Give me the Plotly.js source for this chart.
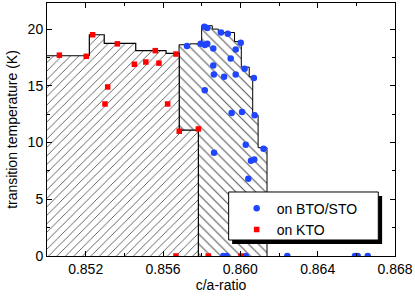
<!DOCTYPE html>
<html>
<head>
<meta charset="utf-8">
<script src="https://cdn.plot.ly/plotly-3.0.1.min.js"></script>
<style>html,body{margin:0;padding:0;background:#fff;}#chart{width:415px;height:298px;}</style>
</head>
<body>
<div id="chart"></div>
<script>
// Boundary (step outline) of the KTO region
const ktoEdgeX = [0.8500, 0.85219, 0.85296, 0.85459, 0.85616, 0.85684, 0.85783];
const ktoEdgeT = [17.65, 19.5, 18.74, 18.1, 17.86, 11.1, 0];
// Boundary (step outline) of the BTO/STO region
const btoEdgeX = [0.85683, 0.85683, 0.85740, 0.85800, 0.85855, 0.85886, 0.85970, 0.86005, 0.86046, 0.86064, 0.86092, 0.86138];
const btoEdgeT = [0, 18.62, 18.7, 20.3, 20.0, 19.7, 18.9, 16.65, 15.8, 12.4, 9.55, 0];

// Measured points: on BTO/STO
const btoX = [0.85814, 0.85829, 0.85900, 0.85935, 0.86002, 0.85724, 0.85795, 0.85817, 0.85829, 0.85860,
              0.85976, 0.85950, 0.85860, 0.85863, 0.85916, 0.85976, 0.86022, 0.86070, 0.85816, 0.85955,
              0.86009, 0.86074, 0.86028, 0.86120, 0.86055, 0.86072, 0.85864, 0.86041,
              0.85912, 0.85929, 0.86028, 0.86243, 0.86593, 0.86607, 0.86659];
const btoT = [20.2, 20.1, 19.7, 19.6, 18.8, 18.5, 18.7, 18.6, 18.7, 18.3,
              18.2, 17.4, 16.8, 16.0, 15.8, 16.0, 16.5, 15.7, 14.6, 12.6,
              12.7, 12.4, 9.8, 9.45, 8.4, 8.5, 9.1, 6.8,
              0, 0, 0, 0, 0, 0, 0];
// Measured points: on KTO
const ktoX = [0.85064, 0.85203, 0.85236, 0.85364, 0.85452, 0.85511, 0.85560, 0.85579, 0.85667,
              0.85314, 0.85300, 0.85624, 0.85684, 0.85783, 0.85667, 0.85834, 0.86003];
const ktoT = [17.7, 17.6, 19.5, 18.7, 16.9, 17.1, 18.1, 17.0, 17.8,
              14.9, 13.4, 13.4, 11.0, 11.2, 0, 0, 0];

const xTicks = [0.852, 0.856, 0.860, 0.864, 0.868];
const xTickText = ['0.852', '0.856', '0.860', '0.864', '0.868'];
const yTicks = [0, 5, 10, 15, 20];

const font = {family: 'Liberation Sans, Arial, sans-serif', size: 14, color: '#000'};

const traces = [
  {x: btoEdgeX, y: btoEdgeT, type: 'scatter', mode: 'lines', line: {shape: 'hv', color: '#000', width: 1},
   fill: 'tozeroy', fillcolor: 'rgba(255,255,255,0)',
   fillpattern: {shape: '\\', size: 7, solidity: 0.15, fgcolor: '#555', bgcolor: '#fff'},
   showlegend: false, hoverinfo: 'skip'},
  {x: ktoEdgeX, y: ktoEdgeT, type: 'scatter', mode: 'lines', line: {shape: 'hv', color: '#000', width: 1.2},
   fill: 'tozeroy', fillcolor: 'rgba(255,255,255,0)',
   fillpattern: {shape: '/', size: 6, solidity: 0.15, fgcolor: '#555', bgcolor: '#fff'},
   showlegend: false, hoverinfo: 'skip'},
  {x: btoX, y: btoT, type: 'scatter', mode: 'markers', name: 'on BTO/STO',
   marker: {symbol: 'circle', size: 6.5, color: '#1f45ff'}},
  {x: ktoX, y: ktoT, type: 'scatter', mode: 'markers', name: 'on KTO',
   marker: {symbol: 'square', size: 5.5, color: '#ff0000'}}
];

const layout = {
  width: 415, height: 298,
  margin: {l: 47, r: 20, t: 3, b: 42},
  paper_bgcolor: '#fff', plot_bgcolor: '#fff',
  font: font,
  showlegend: true,
  legend: {x: 0.545, y: 0.25, xanchor: 'left', yanchor: 'top', bgcolor: 'rgba(0,0,0,0)',
           borderwidth: 0, font: font, tracegroupgap: 0},
  xaxis: {
    range: [0.850, 0.868], showgrid: false, zeroline: false,
    showline: true, linecolor: '#000', linewidth: 1, mirror: 'allticks',
    ticks: 'inside', ticklen: 5, tickcolor: '#000',
    tickvals: xTicks, ticktext: xTickText,
    minor: {tickvals: [0.850, 0.854, 0.858, 0.862, 0.866], ticks: 'inside', ticklen: 3, tickcolor: '#000'},
    title: {text: 'c/a-ratio', font: font, standoff: 4}
  },
  yaxis: {
    range: [0, 22.3], showgrid: false, zeroline: false,
    showline: true, linecolor: '#000', linewidth: 1, mirror: 'allticks',
    ticks: 'inside', ticklen: 5, tickcolor: '#000',
    tickvals: yTicks,
    minor: {tickvals: [2.5, 7.5, 12.5, 17.5], ticks: 'inside', ticklen: 3, tickcolor: '#000'},
    title: {text: 'transition temperature (K)', font: font, standoff: 6}
  },
  shapes: [
    {type: 'rect', xref: 'paper', yref: 'paper', x0: 0.532, x1: 0.963, y0: 0.047, y1: 0.237,
     fillcolor: '#000', line: {width: 0}, layer: 'above'},
    {type: 'rect', xref: 'paper', yref: 'paper', x0: 0.522, x1: 0.952, y0: 0.0632, y1: 0.253,
     fillcolor: '#fff', line: {color: '#000', width: 1}, layer: 'above'}
  ]
};

Plotly.newPlot('chart', traces, layout, {displayModeBar: false, staticPlot: true});
</script>
</body>
</html>
